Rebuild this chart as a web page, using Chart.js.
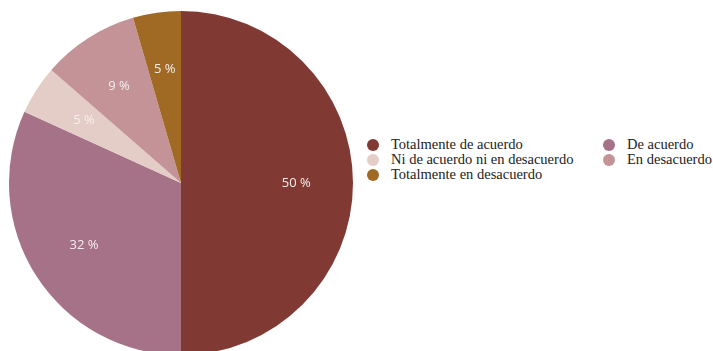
<!DOCTYPE html>
<html>
<head>
<meta charset="utf-8">
<script src="https://cdn.jsdelivr.net/npm/chart.js@4"></script>
<style>
  html, body { margin: 0; padding: 0; background: #fff; overflow: hidden; }
  body { width: 713px; height: 351px; position: relative; }
  #wrap { position: absolute; left: 9px; top: 11px; width: 344px; height: 344px; }
  #legend {
    position: absolute; left: 367px; top: 137px;
    display: grid; grid-template-columns: 236px auto; row-gap: 0;
    font-family: "Liberation Serif", "DejaVu Serif", serif; font-size: 14.5px; color: #222;
  }
  .item { display: flex; align-items: center; height: 15px; }
  .dot { width: 12px; height: 12px; border-radius: 50%; margin-right: 12px; flex: none; }
</style>
</head>
<body>
<div id="wrap"><canvas id="pie"></canvas></div>
<div id="legend"></div>
<script>
// datos (%)
const categorias = ['Totalmente de acuerdo', 'De acuerdo', 'Ni de acuerdo ni en desacuerdo', 'En desacuerdo', 'Totalmente en desacuerdo']
const valores = [50, 31.8, 4.6, 9.1, 4.5]
const etiquetas = ['50 %', '32 %', '5 %', '9 %', '5 %']
const colores = ['#813a33', '#a57287', '#e3cdc6', '#c39397', '#a06a24']

// etiquetas dentro de cada porción
const sliceLabels = {
  id: 'sliceLabels',
  afterDatasetsDraw(chart) {
    const ctx = chart.ctx
    const meta = chart.getDatasetMeta(0)
    ctx.save()
    ctx.font = '13px "Open Sans", "DejaVu Sans", sans-serif'
    ctx.fillStyle = '#f6eeee'
    ctx.textAlign = 'center'
    ctx.textBaseline = 'middle'
    meta.data.forEach((arc, i) => {
      const mid = (arc.startAngle + arc.endAngle) / 2
      const r = arc.outerRadius * 0.67
      ctx.fillText(etiquetas[i], arc.x + Math.cos(mid) * r, arc.y + Math.sin(mid) * r)
    })
    ctx.restore()
  }
}

const pieChart = new Chart(document.getElementById('pie').getContext('2d'), {
  type: 'pie',
  data: {
    labels: categorias,
    datasets: [{
      data: valores,
      backgroundColor: colores,
      borderWidth: 0
    }]
  },
  options: {
    responsive: true,
    maintainAspectRatio: false,
    animation: false,
    plugins: {
      legend: { display: false },
      tooltip: { enabled: false }
    }
  },
  plugins: [sliceLabels]
})

// leyenda en dos columnas, por filas
const legend = document.getElementById('legend')
categorias.forEach((c, i) => {
  const item = document.createElement('div')
  item.className = 'item'
  item.innerHTML = `<span class="dot" style="background:${colores[i]}"></span><span>${c}</span>`
  legend.appendChild(item)
})
</script>
</body>
</html>
